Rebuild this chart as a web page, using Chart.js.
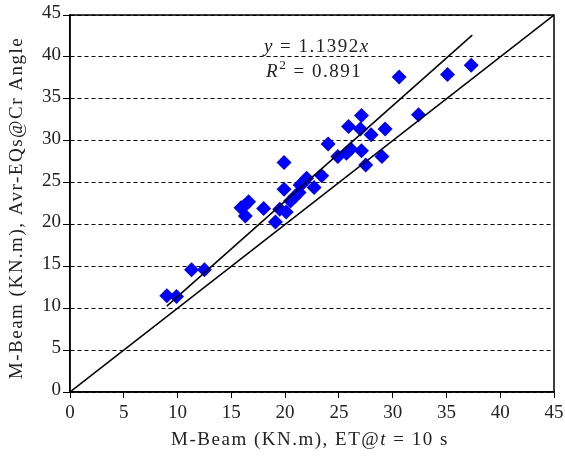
<!DOCTYPE html>
<html>
<head>
<meta charset="utf-8">
<script src="https://cdn.jsdelivr.net/npm/chart.js@4.4.0/dist/chart.umd.min.js"></script>
<style>
    html, body { margin: 0; padding: 0; background: #fff; }
</style>
</head>
<body>
<canvas id="chart" width="565" height="458"></canvas>
<script>
// M-Beam (KN.m), ET@t = 10 s vs Avr-EQs@Cr Angle
var mBeamET = [9.0, 9.9, 11.3, 12.5, 15.9, 16.3, 16.6, 16.2, 18.0, 19.1, 19.9, 19.9, 19.5, 20.1, 20.5, 20.9, 21.3, 21.4, 22.0, 21.7, 22.7, 23.4, 24.0, 24.9, 25.7, 26.1, 25.9, 27.1, 27.0, 27.1, 28.0, 27.5, 29.3, 29.0, 30.6, 32.4, 35.1, 37.3];
var mBeamAvr = [11.5, 11.4, 14.6, 14.6, 22.0, 21.0, 22.7, 22.2, 21.9, 20.3, 27.4, 24.2, 21.8, 21.5, 22.8, 23.3, 23.8, 24.7, 25.5, 25.0, 24.4, 25.8, 29.6, 28.1, 28.5, 29.0, 31.7, 33.0, 31.4, 28.8, 30.7, 27.1, 31.4, 28.1, 37.6, 33.1, 37.9, 39.0];

// trend line y = 1.1392x and the 1:1 line
var fitX = [9.0, 37.4];
var fitY = [10.25, 42.6];
var equalX = [0, 45];
var equalY = [0, 45];

var xTicks = [0, 5, 10, 15, 20, 25, 30, 35, 40, 45];
var yTicks = [0, 5, 10, 15, 20, 25, 30, 35, 40, 45];

var serif = '"Liberation Serif", "DejaVu Serif", serif';

function toPoints(xs, ys) {
    return xs.map(function (x, i) {
        return { x: x, y: ys[i] };
    });
}

// draws text made of parts like {t: 'y', i: true} centred on cx
function drawRich(ctx, parts, cx, y, size, spacing) {
    var total = 0;
    ctx.letterSpacing = (spacing || 0) + 'px';
    parts.forEach(function (p) {
        ctx.font = (p.i ? 'italic ' : '') + (p.sup ? size * 0.7 : size) + 'px ' + serif;
        p.w = ctx.measureText(p.t).width;
        total += p.w;
    });
    var x = cx - total / 2;
    parts.forEach(function (p) {
        ctx.font = (p.i ? 'italic ' : '') + (p.sup ? size * 0.7 : size) + 'px ' + serif;
        ctx.fillText(p.t, x, p.sup ? y - size * 0.4 : y);
        x += p.w;
    });
    ctx.letterSpacing = '0px';
}

var extras = {
    id: 'extras',
    afterDraw: function (chart) {
        var ctx = chart.ctx;
        var area = chart.chartArea;
        var sx = chart.scales.x;
        var sy = chart.scales.y;

        ctx.save();
        ctx.strokeStyle = '#000';
        ctx.lineWidth = 1.5;
        ctx.strokeRect(area.left, area.top, area.right - area.left, area.bottom - area.top);

        ctx.fillStyle = '#222';
        ctx.textBaseline = 'alphabetic';
        ctx.textAlign = 'left';
        drawRich(ctx, [{ t: 'y', i: true }, { t: ' = 1.1392' }, { t: 'x', i: true }],
            sx.getPixelForValue(22.95), sy.getPixelForValue(40.6), 19, 1.5);
        drawRich(ctx, [{ t: 'R', i: true }, { t: '2', sup: true }, { t: ' = 0.891' }],
            sx.getPixelForValue(22.7), sy.getPixelForValue(37.6), 19, 1.5);

        drawRich(ctx, [{ t: 'M-Beam (KN.m), ET@' }, { t: 't', i: true }, { t: ' = 10 s' }],
            310, 445, 19, 1.5);

        ctx.save();
        ctx.translate(22, 208);
        ctx.rotate(-Math.PI / 2);
        drawRich(ctx, [{ t: 'M-Beam (KN.m), Avr-EQs@Cr Angle' }], 0, 0, 19, 1.5);
        ctx.restore();

        ctx.restore();
    }
};

new Chart(document.getElementById('chart'), {
    type: 'scatter',
    data: {
        datasets: [{
            label: 'y = 1.1392x',
            data: toPoints(fitX, fitY),
            showLine: true,
            borderColor: '#000',
            borderWidth: 1.5,
            pointRadius: 0,
            order: 0
        }, {
            label: '1:1',
            data: toPoints(equalX, equalY),
            showLine: true,
            borderColor: '#000',
            borderWidth: 1.5,
            pointRadius: 0,
            order: 0
        }, {
            label: 'M-Beam',
            data: toPoints(mBeamET, mBeamAvr),
            pointStyle: 'rectRot',
            pointRadius: 7.5,
            pointHoverRadius: 7.5,
            backgroundColor: '#0000ff',
            borderWidth: 0,
            order: 1
        }]
    },
    options: {
        responsive: false,
        animation: false,
        layout: { padding: { top: 15, right: 11, left: 0, bottom: 0 } },
        plugins: {
            legend: { display: false },
            tooltip: { enabled: false }
        },
        scales: {
            x: {
                type: 'linear',
                min: 0,
                max: 45,
                afterFit: function (scale) {
                    scale.height = 66;
                    scale.paddingLeft = 0;
                    scale.paddingRight = 0;
                },
                afterBuildTicks: function (scale) {
                    scale.ticks = xTicks.map(function (v) { return { value: v }; });
                },
                grid: {
                    drawOnChartArea: false,
                    drawTicks: true,
                    tickLength: 6,
                    color: '#000',
                    tickBorderDash: []
                },
                border: { display: true, color: '#000', width: 1.5 },
                ticks: {
                    padding: 4,
                    color: '#222',
                    font: { family: serif, size: 19 }
                }
            },
            y: {
                type: 'linear',
                min: 0,
                max: 45,
                afterFit: function (scale) {
                    scale.width = 70;
                    scale.paddingTop = 0;
                    scale.paddingBottom = 0;
                },
                afterBuildTicks: function (scale) {
                    scale.ticks = yTicks.map(function (v) { return { value: v }; });
                },
                grid: {
                    drawOnChartArea: true,
                    drawTicks: true,
                    tickLength: 7,
                    color: '#000',
                    lineWidth: 1,
                    tickBorderDash: []
                },
                border: { display: true, color: '#000', width: 1.5, dash: [4, 3] },
                ticks: {
                    padding: 2,
                    labelOffset: -2,
                    color: '#222',
                    font: { family: serif, size: 19 }
                }
            }
        }
    },
    plugins: [extras]
});
</script>
</body>
</html>
